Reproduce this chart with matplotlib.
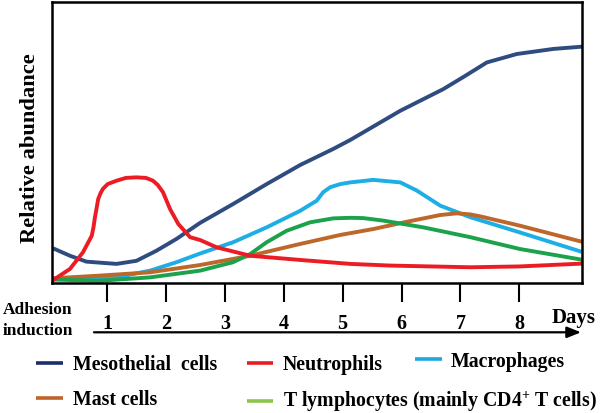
import matplotlib
matplotlib.use('Agg')
import matplotlib.pyplot as plt
from matplotlib.lines import Line2D
from matplotlib.patches import FancyArrowPatch

SERIF = 'Liberation Serif'
plt.rcParams['font.family'] = 'serif'
plt.rcParams['font.serif'] = [SERIF, 'DejaVu Serif']
plt.rcParams['mathtext.fontset'] = 'custom'
plt.rcParams['mathtext.rm'] = 'Liberation Serif:bold'
plt.rcParams['mathtext.it'] = 'Liberation Serif:bold'
plt.rcParams['mathtext.bf'] = 'Liberation Serif:bold'

# ---------------- data ----------------
days = [1, 2, 3, 4, 5, 6, 7, 8]
day_labels = ['1', '2', '3', '4', '5', '6', '7', '8']

meso_x = [0.11, 0.37, 0.65, 1.16, 1.50, 1.84, 2.18, 2.58, 3.14, 3.71, 4.28, 4.84,
          5.13, 5.98, 6.71, 7.05, 7.45, 7.96, 8.58, 9.06]
meso_y = [12.1, 9.7, 7.6, 6.8, 7.9, 11.5, 15.7, 21.4, 28.1, 35.2, 42.0, 47.7,
          50.9, 61.3, 69.0, 73.3, 78.5, 81.5, 83.3, 84.1]

neut_x = [0.11, 0.37, 0.59, 0.74, 0.77, 0.79, 0.85, 0.89, 0.93, 1.01, 1.16, 1.32,
          1.50, 1.66, 1.78, 1.86, 1.95, 2.07, 2.21, 2.41, 2.58, 2.86, 3.43, 4.28,
          5.13, 5.81, 7.17, 8.01, 9.06]
neut_y = [1.4, 5.0, 10.9, 16.8, 19.9, 22.8, 29.9, 32.0, 33.5, 35.2, 36.4, 37.4,
          37.6, 37.4, 36.4, 34.9, 32.3, 26.3, 21.0, 16.3, 15.3, 12.7, 9.7, 8.2,
          6.8, 6.2, 5.6, 5.9, 6.9]

macro_x = [0.11, 1.16, 1.73, 2.18, 2.58, 3.14, 3.71, 4.28, 4.56, 4.67, 4.79, 4.96,
           5.13, 5.52, 5.98, 6.26, 6.66, 6.96, 7.17, 8.01, 9.06]
macro_y = [1.4, 2.0, 4.4, 7.4, 10.5, 14.5, 19.8, 25.7, 29.3, 32.3, 34.1, 35.2,
           35.8, 36.7, 35.8, 32.9, 27.5, 25.1, 23.4, 18.0, 11.1]

mast_x = [0.11, 0.85, 1.73, 2.58, 3.43, 4.28, 4.96, 5.52, 6.09, 6.66, 6.94, 7.17,
          7.34, 8.01, 9.06]
mast_y = [1.7, 2.6, 3.8, 6.4, 9.7, 13.9, 17.1, 19.2, 21.8, 24.2, 24.8, 24.4,
          23.7, 20.4, 14.7]

tcell_x = [0.11, 0.88, 1.73, 2.58, 3.14, 3.43, 3.71, 4.05, 4.45, 4.84, 5.13, 5.35,
           5.69, 6.37, 7.17, 8.01, 9.06]
tcell_y = [1.2, 0.8, 2.0, 4.4, 7.4, 10.3, 14.5, 18.6, 21.6, 23.0, 23.2, 23.1,
           22.2, 19.8, 16.3, 12.1, 8.3]

labels = ['Mesothelial  cells', 'Neutrophils', 'Macrophages', 'Mast cells',
          'T lymphocytes (mainly CD4$^{+}$ T cells)']

# ---------------- styles ----------------
line_colors = {'meso': '#2F4C80', 'neut': '#EC1C24', 'macro': '#1DAEE6',
               'mast': '#BD682A', 'tcell': '#1BA24B'}
legend_colors = ['#1B2D6B', '#E51E25', '#1EA8E0', '#C0632A', '#8CC54B']

W, H = 600, 414
fig = plt.figure(figsize=(W / 100, H / 100), dpi=100)
ax = fig.add_axes([51.7 / W, 130 / H, 530 / W, 281 / H])

ax.plot(meso_x, meso_y, color=line_colors['meso'], lw=2.8)
ax.plot(macro_x, macro_y, color=line_colors['macro'], lw=2.8)
ax.plot(mast_x, mast_y, color=line_colors['mast'], lw=2.8)
ax.plot(tcell_x, tcell_y, color=line_colors['tcell'], lw=2.8)
ax.plot(neut_x, neut_y, color=line_colors['neut'], lw=2.8)

ax.set_xlim(0.06, 9.06)
ax.set_ylim(0, 100)
ax.set_xticks(days)
ax.set_xticklabels(day_labels, fontfamily=SERIF, fontweight='bold', fontsize=14.5)
ax.set_yticks([])
ax.tick_params(axis='x', direction='out', length=13.7, width=1.5, pad=8,
               colors='black')
for s in ax.spines.values():
    s.set_linewidth(1.8)
    s.set_color('black')


def fy(py):
    return (H - py) / H


tkw = dict(family=SERIF, fontweight='bold')

# y label
fig.text(30.5 / W, fy(148), 'Relative abundance', rotation=90, ha='center',
         va='center', fontsize=16.2, **tkw)

# left annotation
fig.text(2.7 / W, fy(314.3), 'Adhesion', ha='left', va='baseline',
         fontsize=12.5, **tkw)
fig.text(2.7 / W, fy(335), 'induction', ha='left', va='baseline',
         fontsize=12.5, **tkw)

# Days label
fig.text(551.7 / W, fy(322.7), 'Days', ha='left', va='baseline',
         fontsize=15, **tkw)

# arrow
fig.add_artist(FancyArrowPatch(
    (94 / W, fy(333.3)), (581 / W, fy(333.3)), transform=fig.transFigure,
    arrowstyle='-|>,head_length=0.7,head_width=0.28', mutation_scale=12,
    color='black', lw=1.6, shrinkA=0, shrinkB=0))

# manual legend
entries = [
    (36, 63, 363.7, 72.7, 370.0),
    (246.7, 272.7, 364.0, 282.7, 370.0),
    (415, 441.7, 360.0, 450.7, 367.0),
    (36, 63, 398.7, 72.7, 405.0),
    (246.7, 272.7, 401.5, 282.7, 407.5),
]
for (x0, x1, hy, tx, ty), lab, col in zip(entries, labels, legend_colors):
    fig.add_artist(Line2D([x0 / W, x1 / W], [fy(hy), fy(hy)], transform=fig.transFigure,
                          color=col, lw=2.6, solid_capstyle='butt'))
    fig.text(tx / W, fy(ty), lab, ha='left', va='baseline', fontsize=14.3, **tkw)

fig.savefig('out.png', dpi=100)
